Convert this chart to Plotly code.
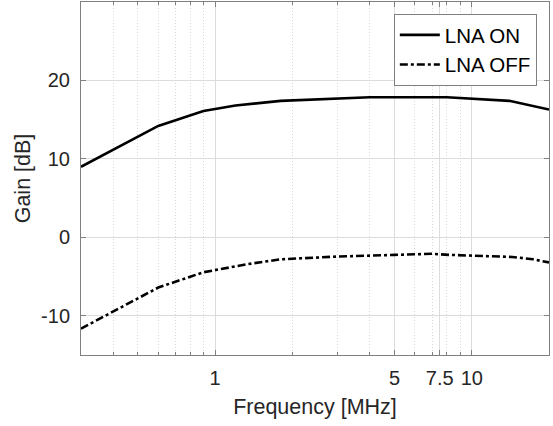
import plotly.graph_objects as go

# Data
freq_on = [0.3, 0.6, 0.9, 1.2, 1.8, 3, 4, 8, 10, 14, 20]
gain_on = [9.0, 14.2, 16.1, 16.8, 17.4, 17.7, 17.85, 17.85, 17.7, 17.4, 16.3]

freq_off = [0.3, 0.6, 0.9, 1.35, 1.8, 3, 5, 7, 8.2, 10, 14.4, 17.3, 20]
gain_off = [-11.65, -6.4, -4.45, -3.4, -2.8, -2.45, -2.24, -2.1, -2.24, -2.36, -2.5, -2.8, -3.2]

x_tickvals = [1, 5, 7.5, 10]
x_ticktext = ["1", "5", "7.5", "10"]
x_minorvals = [0.4, 0.5, 0.6, 0.7, 0.8, 0.9, 2, 3, 4, 6, 7, 8, 9, 20]
y_tickvals = [-10, 0, 10, 20]
y_ticktext = ["-10", "0", "10", "20"]

FONT = "Liberation Sans, Arial, sans-serif"
TXT = "#262626"
AX = "#808080"

fig = go.Figure()
fig.add_trace(go.Scatter(x=freq_on, y=gain_on, mode="lines", name="LNA ON",
                         line=dict(color="black", width=2.6)))
fig.add_trace(go.Scatter(x=freq_off, y=gain_off, mode="lines", name="LNA OFF",
                         line=dict(color="black", width=2.6, dash="8px,3px,3px,3px")))

fig.update_layout(
    width=553, height=426,
    margin=dict(l=81, r=4, t=2, b=71, autoexpand=False),
    paper_bgcolor="white", plot_bgcolor="white",
    font=dict(family=FONT, color=TXT, size=20),
    showlegend=True,
    legend=dict(x=0.974, y=0.966, xanchor="right", yanchor="top",
                bgcolor="white", bordercolor=AX, borderwidth=1,
                font=dict(size=20.5, family=FONT, color="black"),
                tracegroupgap=0, itemwidth=40),
    xaxis=dict(
        type="log", range=[-0.5228787, 1.30103],
        automargin=False,
        tickmode="array", tickvals=x_tickvals, ticktext=x_ticktext,
        ticks="inside", ticklen=5, tickcolor=AX,
        showline=True, linecolor=AX, linewidth=1, mirror="ticks",
        showgrid=True, gridcolor="#dcdcdc", gridwidth=1,
        zeroline=False,
        tickfont=dict(size=20, color=TXT),
        ticklabelstandoff=5,
        title=dict(text="Frequency [MHz]", font=dict(size=21.5, color=TXT), standoff=10),
        minor=dict(tickvals=x_minorvals, ticks="inside", ticklen=3, tickcolor=AX,
                   showgrid=True, gridcolor="#d8d8d8", griddash="1px,2px", gridwidth=1),
    ),
    yaxis=dict(
        range=[-15, 30],
        automargin=False,
        tickmode="array", tickvals=y_tickvals, ticktext=y_ticktext,
        ticks="inside", ticklen=5, tickcolor=AX,
        showline=True, linecolor=AX, linewidth=1, mirror="ticks",
        showgrid=True, gridcolor="#dcdcdc", gridwidth=1,
        zeroline=False,
        tickfont=dict(size=20, color=TXT),
        ticklabelstandoff=6,
        title=dict(text="Gain [dB]", font=dict(size=21.5, color=TXT), standoff=4),
    ),
)

fig.write_html("out.html", config={"displayModeBar": False},
               post_script="document.body.style.margin='0';document.body.style.padding='0';")
